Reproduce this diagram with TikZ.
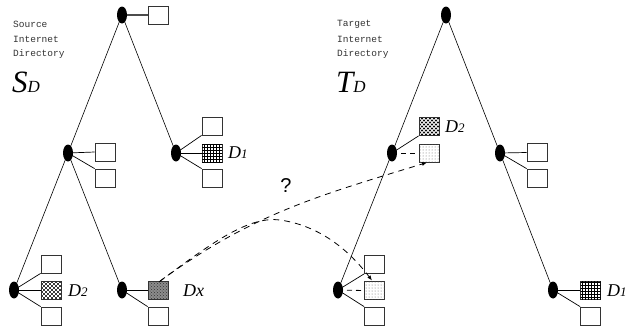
\documentclass[tikz,border=0pt]{standalone}
\usepackage{fontspec}
\setmainfont{Liberation Serif}
\newfontfamily\monof{Liberation Mono}
\newfontfamily\sansf{Liberation Sans}
\usetikzlibrary{shapes.geometric,patterns,arrows.meta,backgrounds}
\begin{document}
\begin{tikzpicture}[x=1pt,y=-1pt,
  vert/.style={ellipse,fill=black,minimum width=10pt,minimum height=17pt,inner sep=0pt},
  box/.style={rectangle,draw=black!80,line width=0.8pt,minimum width=20pt,minimum height=18pt,inner sep=0pt,fill=white},
  gridbox/.style={box,postaction={pattern=grid,pattern color=black}},
  hatchbox/.style={box,fill=black,path picture={
      \foreach \i in {-24,-20,...,24} {
        \draw[white,line width=0.9pt] ([xshift=\i pt]path picture bounding box.south west) -- ++(24pt,24pt);
        \draw[white,line width=0.9pt] ([xshift=\i pt]path picture bounding box.north west) -- ++(24pt,-24pt);
      }}},
  dxbox/.style={box,fill=black!45,postaction={pattern=crosshatch dots,pattern color=black!80}},
  dotbox/.style={box,fill=white,postaction={pattern=dots,pattern color=black!60}},
  edge/.style={line width=0.6pt},
  cedge/.style={line width=0.7pt},
  dedge/.style={line width=0.8pt,dash pattern=on 6pt off 5pt},
  lab/.style={anchor=base west,inner sep=0pt,font=\itshape},
  desc/.style={anchor=west,inner sep=0pt,font=\monof\fontsize{9.5}{11}\selectfont,text=black!80}]
\useasboundingbox (0,0) rectangle (626,327);

% ---------- Source tree ----------
\node[vert] (r) at (122,15) {};
\node[vert] (l) at (68,153) {};
\node[vert] (rr) at (176,153) {};
\node[vert] (ll) at (14,290) {};
\node[vert] (lr) at (122,290) {};

\node[box] (rb) at (158,15) {};
\node[box] (lb1) at (105,152) {};
\node[box] (lb2) at (105,178) {};
\node[box] (rrb1) at (212,126) {};
\node[gridbox] (rrb2) at (212,153) {};
\node[box] (rrb3) at (212,178) {};
\node[box] (llb1) at (51,264) {};
\node[hatchbox] (llb2) at (51,290) {};
\node[box] (llb3) at (51,316) {};
\node[dxbox] (dx) at (158,290) {};
\node[box] (lrb2) at (158,316) {};

% ---------- Target tree ----------
\node[vert] (tr) at (446,15) {};
\node[vert] (tl) at (392,153) {};
\node[vert] (trr) at (500,153) {};
\node[vert] (tll) at (338,290) {};
\node[vert] (trrr) at (553,290) {};

\node[hatchbox] (tlb1) at (429,126.5) {};
\node[dotbox] (tlb2) at (429,153) {};
\node[box] (trrb1) at (537,152.5) {};
\node[box] (trrb2) at (537,178) {};
\node[box] (tllb1) at (374.5,264.5) {};
\node[dotbox] (tllb2) at (374.5,290.5) {};
\node[box] (tllb3) at (374.5,316) {};
\node[gridbox] (trrrb1) at (590.5,290) {};
\node[box] (trrrb2) at (590.5,316) {};

\begin{scope}[on background layer]
  \draw[edge] (r.center) -- (l.center);
  \draw[edge] (r.center) -- (rr.center);
  \draw[edge] (l.center) -- (ll.center);
  \draw[edge] (l.center) -- (lr.center);
  \draw[line width=1.4pt,black!70] (r.center) -- (rb.west);
  \draw[cedge] (l.center) -- (lb1.west);
  \draw[cedge] (l.center) -- (lb2.north west);
  \draw[cedge] (rr.center) -- (rrb1.south west);
  \draw[cedge] (rr.center) -- (rrb2.west);
  \draw[cedge] (rr.center) -- (rrb3.north west);
  \draw[cedge] (ll.center) -- (llb1.south west);
  \draw[cedge] (ll.center) -- (llb2.west);
  \draw[cedge] (ll.center) -- (llb3.north west);
  \draw[cedge] (lr.center) -- (dx.west);
  \draw[cedge] (lr.center) -- (lrb2.north west);

  \draw[edge] (tr.center) -- (tl.center);
  \draw[edge] (tr.center) -- (trr.center);
  \draw[edge] (tl.center) -- (tll.center);
  \draw[edge] (trr.center) -- (trrr.center);
  \draw[cedge] (tl.center) -- (tlb1.south west);
  \draw[dedge,dash pattern=on 5pt off 4pt] (tl.center) -- (tlb2.west);
  \draw[cedge] (trr.center) -- (trrb1.west);
  \draw[cedge] (trr.center) -- (trrb2.north west);
  \draw[cedge] (tll.center) -- (tllb1.south west);
  \draw[dedge,dash pattern=on 5pt off 4pt] (tll.center) -- (tllb2.west);
  \draw[cedge] (tll.center) -- (tllb3.north west);
  \draw[cedge] (trrr.center) -- (trrrb1.west);
  \draw[cedge] (trrr.center) -- (trrrb2.north west);
\end{scope}

% ---------- labels ----------
\node[desc] (s1) at (13,24) {Source};
\node[desc] (s2) at (13,39) {Internet};
\node[desc] (s3) at (13,54) {Directory};
\node[lab] (sd) at (12,92) {\fontsize{31}{31}\selectfont S\fontsize{17}{17}\selectfont D};
\node[desc] (t1) at (337,24) {Target};
\node[desc] (t2) at (337,39) {Internet};
\node[desc] (t3) at (337,54) {Directory};
\node[lab] (td) at (336,92) {\fontsize{31}{31}\selectfont T\fontsize{17}{17}\selectfont D};

\node[lab] (d1a) at (228,158) {\fontsize{18}{18}\selectfont D\fontsize{13}{13}\selectfont 1};
\node[lab] (d2a) at (68,296) {\fontsize{18}{18}\selectfont D\fontsize{13}{13}\selectfont 2};
\node[lab] (dxl) at (183,296) {\fontsize{18}{18}\selectfont Dx};
\node[lab] (d2b) at (445,132) {\fontsize{18}{18}\selectfont D\fontsize{13}{13}\selectfont 2};
\node[lab] (d1b) at (607,296) {\fontsize{18}{18}\selectfont D\fontsize{13}{13}\selectfont 1};

\node[inner sep=0pt,font=\sansf\fontsize{20}{20}\selectfont] (q) at (286,186) {?};

% ---------- dashed mapping arrows ----------
\coordinate (st1) at (160,281);
\coordinate (st2) at (159,282);
\coordinate (en1) at (427,162.5);
\coordinate (en2) at (372,280.5);
\draw[dedge,-{Latex[length=5pt,width=4pt]}] (st1) to[out=36,in=197] (en1);
\draw[dedge,-{Latex[length=5pt,width=4pt]}] (st2) .. controls (215,240) and (250,216) .. (280,220) .. controls (315,225) and (345,245) .. (en2);
\end{tikzpicture}
\end{document}
